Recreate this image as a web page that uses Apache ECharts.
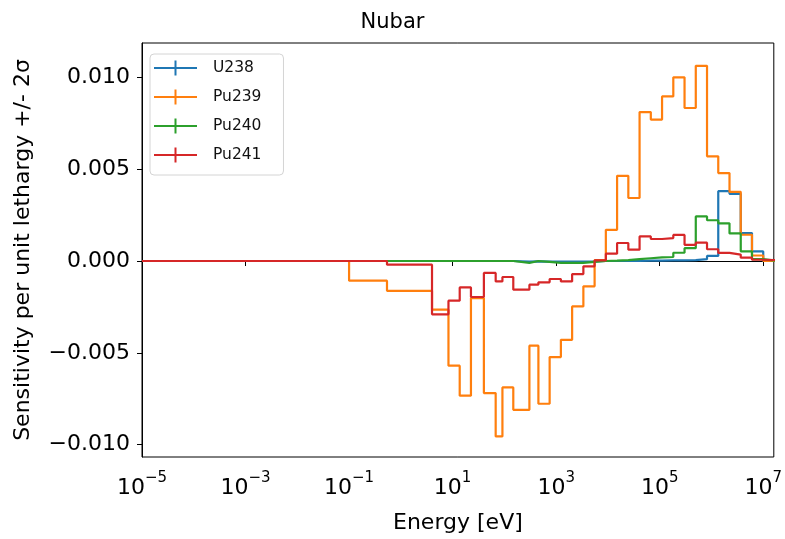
<!DOCTYPE html>
<html>
<head>
<meta charset="utf-8">
<script src="https://cdn.jsdelivr.net/npm/echarts@6/dist/echarts.min.js"></script>
<style>
  html, body { margin: 0; padding: 0; background: #fff; }
  #chart { width: 785px; height: 539px; }
</style>
</head>
<body>
<div id="chart"></div>
<script>
// group boundaries in eV (33 groups, ascending)
const energyEdges = [1e-5, 0.1, 0.54, 4.0, 8.315, 13.71, 22.6, 40.17, 67.9, 91.66, 148.6,
  304.3, 454.0, 748.5, 1234, 2035, 3355, 5531, 9119, 1.503e4, 2.479e4, 4.087e4, 6.738e4,
  1.111e5, 1.832e5, 3.02e5, 4.979e5, 8.209e5, 1.353e6, 2.231e6, 3.679e6, 6.065e6, 1.0e7, 1.964e7];

// sensitivity per unit lethargy, one value per group
const u238 = [0, 0, 0, 0, 0, 0, 0, 0, 0, 0, -0.00003, -0.00002, -0.00003, -0.00003, -0.00003,
  -0.00003, -0.00002, 0, 0, 0, 0, 0.00002, 0.00002, 0.00003, 0.00003, 0.00005, 0.0001,
  0.00028, 0.0038, 0.00366, 0.00152, 0.00052, 0];
const pu239 = [0, -0.00107, -0.00162, -0.00265, -0.0057, -0.00733, -0.00202, -0.00719,
  -0.00955, -0.00688, -0.0081, -0.00461, -0.00777, -0.00523, -0.00429, -0.00247, -0.00138,
  0.00005, 0.0017, 0.00464, 0.00343, 0.00811, 0.0077, 0.00896, 0.0100, 0.00833, 0.01063,
  0.0057, 0.00479, 0.00377, 0.00143, 0.0003, 0];
const pu240 = [0, 0, 0, 0, 0, 0, 0, 0, 0, 0, -0.0001, 0, -0.00005, -0.0001, -0.0001, -0.0001,
  -0.00005, 0, 0.00002, 0.00005, 0.0001, 0.00015, 0.0002, 0.00022, 0.00045, 0.0007, 0.00243,
  0.00222, 0.00205, 0.0015, 0.00053, 0.0001, 0];
const pu241 = [0, 0, -0.0002, -0.0029, -0.00216, -0.00144, -0.00196, -0.00065, -0.00111,
  -0.00087, -0.00156, -0.00129, -0.00116, -0.00098, -0.00111, -0.00071, -0.00029, 0.00003,
  0.0004, 0.00098, 0.00062, 0.00134, 0.0012, 0.00125, 0.00142, 0.00088, 0.001, 0.00064,
  0.00044, 0.00035, 0.00018, 0.00007, 0.00005];

const seriesNames = ['U238', 'Pu239', 'Pu240', 'Pu241'];
const xTickValues = [1e-5, 1e-3, 1e-1, 1e1, 1e3, 1e5, 1e7];
const yTickValues = [-0.01, -0.005, 0, 0.005, 0.01];

const colors = ['#1f77b4', '#ff7f0e', '#2ca02c', '#d62728'];
const font = 'DejaVu Sans';

// steps-post: each edge carries the value of the group starting there
function stepData(vals) {
  return energyEdges.map((e, i) => [e, vals[Math.min(i, vals.length - 1)]]);
}

const allVals = [u238, pu239, pu240, pu241];
const series = allVals.map((vals, i) => ({
  name: seriesNames[i],
  type: 'line',
  step: 'end',
  showSymbol: false,
  data: stepData(vals),
  lineStyle: { color: colors[i], width: 2.2 },
  itemStyle: { color: colors[i] },
}));

const chart = echarts.init(document.getElementById('chart'));
chart.setOption({
  animation: false,
  backgroundColor: '#fff',
  color: colors,
  title: {
    text: 'Nubar',
    left: 'center',
    top: 7,
    textStyle: { fontFamily: font, fontSize: 21, fontWeight: 'normal', color: '#000' },
  },
  legend: {
    orient: 'vertical',
    left: 150,
    top: 54,
    padding: [6, 22, 12, 4],
    itemGap: 13,
    itemWidth: 43,
    itemHeight: 15,
    icon: 'path://M0,6.5h43v2H0z M20.5,0h2v15h-2z',
    backgroundColor: '#fff',
    borderColor: '#d4d4d4',
    borderWidth: 1,
    borderRadius: 4,
    textStyle: { fontFamily: font, fontSize: 15.5, color: '#111', padding: [0, 0, 0, 11] },
    data: seriesNames,
  },
  grid: {
    left: 142, right: 8, top: 43, bottom: 82,
    show: true, borderColor: '#000', borderWidth: 1,
  },
  xAxis: {
    type: 'log',
    logBase: 10,
    min: 1e-5,
    max: 1.6e7,
    name: 'Energy [eV]',
    nameLocation: 'middle',
    nameGap: 55,
    nameTextStyle: { fontFamily: font, fontSize: 22, color: '#000' },
    axisLine: { lineStyle: { color: '#000', width: 1 } },
    axisTick: { length: 5, lineStyle: { color: '#000' }, customValues: xTickValues },
    minorTick: { show: false },
    splitLine: { show: false },
    axisLabel: {
      customValues: xTickValues,
      margin: 14,
      formatter: v => {
        const p = Math.round(Math.log10(v));
        return '{b|10}{s|' + (p < 0 ? '\u2212' : '') + Math.abs(p) + '}';
      },
      rich: {
        b: { fontFamily: font, fontSize: 22, color: '#000', lineHeight: 28, verticalAlign: 'bottom' },
        s: { fontFamily: font, fontSize: 15, color: '#000', lineHeight: 16, verticalAlign: 'top' },
      },
    },
  },
  yAxis: {
    type: 'value',
    min: -0.01067,
    max: 0.01187,
    name: 'Sensitivity per unit lethargy +/- 2\u03c3',
    nameLocation: 'middle',
    nameRotate: 90,
    nameGap: 108,
    nameTextStyle: { fontFamily: font, fontSize: 22, color: '#000' },
    axisLine: { show: true, lineStyle: { color: '#000', width: 1 } },
    axisTick: { show: true, length: 5, lineStyle: { color: '#000' }, customValues: yTickValues },
    splitLine: { show: false },
    axisLabel: {
      customValues: yTickValues,
      margin: 12,
      fontFamily: font,
      fontSize: 22,
      color: '#000',
      formatter: v => (v < 0 ? '\u2212' : '') + Math.abs(v).toFixed(3),
    },
  },
  series: series,
});
</script>
</body>
</html>
